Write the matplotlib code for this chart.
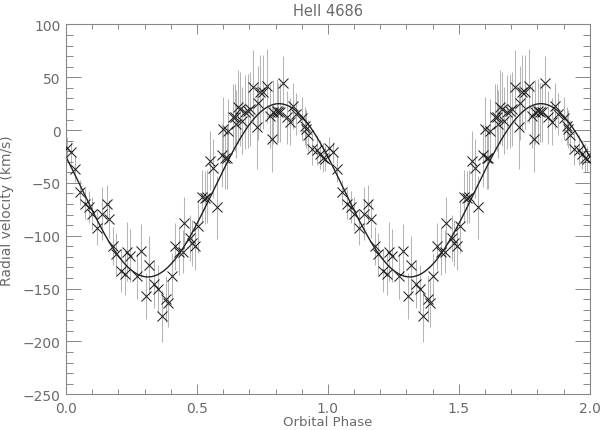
import numpy as np
import matplotlib
matplotlib.use("Agg")
import matplotlib.pyplot as plt
from matplotlib.ticker import MultipleLocator

# Observed phases (one orbital cycle), radial velocities and errors (km/s)
phase = [0.004, 0.018, 0.033, 0.053, 0.073, 0.088, 0.099, 0.117, 0.136, 0.155,
         0.164, 0.178, 0.191, 0.210, 0.225, 0.232, 0.244, 0.270, 0.285, 0.305,
         0.317, 0.336, 0.351, 0.365, 0.382, 0.389, 0.403, 0.416, 0.431, 0.447,
         0.452, 0.473, 0.480, 0.492, 0.505, 0.518, 0.531, 0.537, 0.550, 0.562,
         0.575, 0.594, 0.600, 0.607, 0.613, 0.620, 0.639, 0.645, 0.651, 0.658,
         0.664, 0.671, 0.683, 0.696, 0.702, 0.715, 0.728, 0.734, 0.740, 0.753,
         0.766, 0.779, 0.788, 0.791, 0.804, 0.810, 0.817, 0.829, 0.842, 0.855,
         0.868, 0.880, 0.900, 0.912, 0.918, 0.925, 0.938, 0.957, 0.969, 0.982,
         0.989]
velocity = [-17, -21, -37, -59, -70, -73, -79, -93, -79, -70,
            -84, -110, -117, -133, -136, -115, -119, -138, -114, -157,
            -128, -146, -150, -176, -160, -164, -138, -110, -115, -115,
            -88, -102, -107, -110, -91, -63, -64, -63, -29, -36,
            -73, -24, 1, -26, -26, -1, 12, 12, 6, 22,
            20, 9, 17, 18, 20, 41, 3, 26, 36, 36,
            42, 13, -8, 17, 18, 17, 17, 45, 12, 8,
            23, 15, 11, 4, 1, -5, -18, -19, -23, -26,
            -27]
error = [10, 10, 12, 12, 14, 15, 16, 16, 25, 18,
         18, 18, 20, 20, 20, 28, 25, 22, 25, 22,
         28, 22, 22, 25, 22, 22, 22, 22, 22, 20,
         25, 22, 22, 22, 25, 25, 25, 25, 28, 28,
         30, 30, 30, 30, 30, 30, 32, 32, 32, 35,
         35, 32, 35, 35, 35, 35, 40, 35, 35, 35,
         35, 30, 32, 30, 30, 28, 28, 25, 25, 22,
         22, 20, 20, 18, 18, 15, 15, 14, 14, 14,
         12]

# Sinusoidal fit parameters
gamma = -57.0
K_amp = 82.0
phi0 = 0.563

title = "HeII 4686"
xlabel = "Orbital Phase"
ylabel = "Radial velocity (km/s)"

ph = np.array(phase)
vel = np.array(velocity)
err = np.array(error)
ph2 = np.concatenate([ph, ph + 1.0])
vel2 = np.concatenate([vel, vel])
err2 = np.concatenate([err, err])

fig = plt.figure(figsize=(6.0, 4.31), dpi=100)
ax = fig.add_axes([0.110, 0.083, 0.873, 0.858])

tc = '#6a6a6a'
ax.errorbar(ph2, vel2, yerr=err2, fmt='none', ecolor='#b5b5b5', elinewidth=0.75, capsize=0, zorder=1)
ax.plot(ph2, vel2, 'x', color='#222222', ms=7.5, mew=0.75, zorder=3)

xf = np.linspace(0, 2, 600)
ax.plot(xf, gamma + K_amp * np.sin(2 * np.pi * (xf - phi0)), color='#222222', lw=1.0, zorder=2)

ax.set_xlim(0, 2)
ax.set_ylim(-250, 100)
ax.xaxis.set_major_locator(MultipleLocator(0.5))
ax.xaxis.set_minor_locator(MultipleLocator(0.1))
ax.yaxis.set_major_locator(MultipleLocator(50))
ax.yaxis.set_minor_locator(MultipleLocator(10))
ax.xaxis.set_major_formatter(matplotlib.ticker.FormatStrFormatter('%.1f'))
ax.tick_params(which='both', direction='in', top=True, right=True, color='#888888',
               labelcolor=tc, labelsize=10, width=0.7)
ax.tick_params(axis='x', which='major', length=7.4, pad=5)
ax.tick_params(axis='x', which='minor', length=3.7)
ax.tick_params(axis='y', which='major', length=10.5, pad=4)
ax.tick_params(axis='y', which='minor', length=5.2)
for s in ax.spines.values():
    s.set_color('#888888')
    s.set_linewidth(0.8)

ax.set_title(title, color=tc, fontsize=10.5, pad=7)
ax.set_xlabel(xlabel, color=tc, fontsize=9.5, labelpad=0)
ax.set_ylabel(ylabel, color=tc, fontsize=10, labelpad=6)

fig.savefig("out.png", dpi=100)
